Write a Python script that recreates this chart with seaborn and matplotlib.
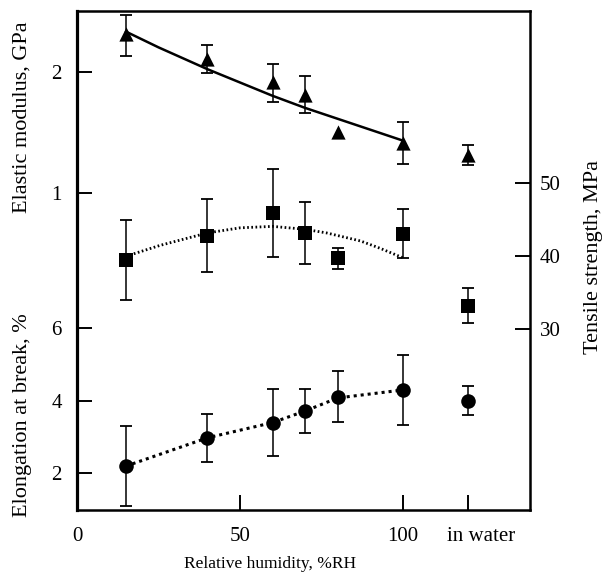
import matplotlib
matplotlib.use("Agg")
import matplotlib.pyplot as plt
import numpy as np
import seaborn as sns

# Relative humidity (%RH) of the conditioned samples; "in water" sits at a separate slot
humidity = [15, 40, 60, 70, 80, 100]
water_pos = 120

# Elastic modulus, GPa
modulus = [2.31, 2.10, 1.91, 1.81, 1.50, 1.41]
modulus_err_lo = [0.18, 0.11, 0.16, 0.15, 0.0, 0.17]
modulus_err_hi = [0.16, 0.12, 0.15, 0.15, 0.0, 0.17]
modulus_water = 1.31
modulus_water_err = 0.08

# Tensile strength, MPa
strength = [39.5, 42.8, 45.9, 43.2, 39.7, 43.1]
strength_err = [5.5, 5.0, 6.0, 4.3, 1.4, 3.4]
strength_water = 33.2
strength_water_err = 2.4

# Elongation at break, %
elongation = [2.2, 2.98, 3.40, 3.72, 4.11, 4.30]
elongation_err = [1.1, 0.66, 0.92, 0.62, 0.70, 0.97]
elongation_water = 4.0
elongation_water_err = 0.4

# Trend curves
modulus_fit_x = [15, 25, 40, 50, 60, 70, 80, 90, 100]
modulus_fit = [2.33, 2.20, 2.02, 1.91, 1.80, 1.70, 1.61, 1.52, 1.43]
strength_fit_x = [15, 25.5, 40, 50, 60, 70, 76.6, 87, 93, 100]
strength_fit = [40.0, 41.5, 43.2, 43.9, 44.1, 43.7, 43.2, 42.1, 41.1, 39.8]
elong_fit_x = [15, 40, 60, 70, 80, 100]
elong_fit = [2.2, 2.98, 3.40, 3.72, 4.08, 4.30]

x_ticks = [0, 50, 100, water_pos]
x_ticklabels = ["0", "50", "100", ""]

sns.set_theme(style="ticks")
plt.rcParams["font.family"] = ["Liberation Serif", "DejaVu Serif"]
plt.rcParams["text.color"] = "black"
plt.rcParams["axes.labelcolor"] = "black"
plt.rcParams["xtick.color"] = "black"
plt.rcParams["ytick.color"] = "black"

fig = plt.figure(figsize=(6.05, 5.86), dpi=100)
ax = fig.add_axes([0.1273, 0.1297, 0.7487, 0.8515])   # elongation scale
ax_mod = ax.twinx()                                    # modulus scale (left)
ax_ts = ax.twinx()                                     # tensile strength scale (right)

ax.set_xlim(0, 139)
ax.set_ylim(0.99, 14.75)
ax_mod.set_ylim(-1.62, 2.50)
ax_ts.set_ylim(5.25, 73.6)

ink = "black"
err_kw = dict(fmt="none", ecolor=ink, elinewidth=1.1, capsize=4.3, capthick=1.3, zorder=2)


def draw_errors(axis, xs, ys, lo, hi):
    xs, ys, lo, hi = map(np.asarray, (xs, ys, lo, hi))
    keep = (lo > 0) | (hi > 0)
    axis.errorbar(xs[keep], ys[keep], yerr=[lo[keep], hi[keep]], **err_kw)


# --- elastic modulus (triangles, solid trend) ---
mod_x = humidity + [water_pos]
mod_y = modulus + [modulus_water]
draw_errors(ax_mod, mod_x, mod_y,
            modulus_err_lo + [modulus_water_err], modulus_err_hi + [modulus_water_err])
sns.lineplot(x=modulus_fit_x, y=modulus_fit, ax=ax_mod, color=ink, lw=1.8, zorder=3)
sns.scatterplot(x=mod_x, y=mod_y, ax=ax_mod, marker="^", s=105, color=ink,
                edgecolor=ink, linewidth=0, zorder=4)

# --- tensile strength (squares, dotted trend) ---
ts_x = humidity + [water_pos]
ts_y = strength + [strength_water]
ts_err = strength_err + [strength_water_err]
draw_errors(ax_ts, ts_x, ts_y, ts_err, ts_err)
sns.lineplot(x=strength_fit_x, y=strength_fit, ax=ax_ts, color=ink, lw=2.0,
             linestyle=(0, (0.6, 0.9)), zorder=3)
sns.scatterplot(x=ts_x, y=ts_y, ax=ax_ts, marker="s", s=95, color=ink,
                edgecolor=ink, linewidth=0, zorder=4)

# --- elongation at break (circles, dotted trend) ---
el_x = humidity + [water_pos]
el_y = elongation + [elongation_water]
el_err = elongation_err + [elongation_water_err]
draw_errors(ax, el_x, el_y, el_err, el_err)
sns.lineplot(x=elong_fit_x, y=elong_fit, ax=ax, color=ink, lw=2.2,
             linestyle=(0, (1.0, 1.3)), zorder=3)
sns.scatterplot(x=el_x, y=el_y, ax=ax, marker="o", s=110, color=ink,
                edgecolor=ink, linewidth=0, zorder=4)

# --- axes, ticks and labels ---
tick_kw = dict(direction="in", length=10.5, width=1.4, labelsize=15, colors=ink)

ax.set_xticks(x_ticks)
ax.set_xticklabels(x_ticklabels)
ax.tick_params(axis="x", pad=12, top=False, **tick_kw)
ax.annotate("in water", xy=(water_pos, 0), xycoords=("data", "axes fraction"),
            xytext=(9.5, -12.5), textcoords="offset points", ha="center", va="top",
            fontsize=15, color=ink)

ax.set_yticks([2, 4, 6])
ax.tick_params(axis="y", left=True, right=False, labelleft=True, labelright=False,
               pad=11, **tick_kw)

ax_mod.yaxis.tick_left()
ax_mod.set_yticks([1, 2])
ax_mod.tick_params(axis="y", pad=11, **tick_kw)

ax_ts.set_yticks([30, 40, 50])
ax_ts.tick_params(axis="y", pad=7, **tick_kw)

for a in (ax_mod, ax_ts):
    for s in a.spines.values():
        s.set_visible(False)
for name, s in ax.spines.items():
    s.set_visible(True)
    s.set_linewidth(2.3 if name == "left" else 1.8)
    s.set_color(ink)

ax.set_xlabel("Relative humidity, %RH", fontsize=12.5)
ax.xaxis.set_label_coords(0.426, -0.092)

ax.set_ylabel("Elongation at break, %", fontsize=16)
ax.yaxis.label.set_verticalalignment("center")
ax.yaxis.set_label_coords(-0.121, 0.19)

ax_mod.yaxis.set_label_position("left")
ax_mod.set_ylabel("Elastic modulus, GPa", fontsize=16)
ax_mod.yaxis.label.set_verticalalignment("center")
ax_mod.yaxis.set_label_coords(-0.121, 0.788)

ax_ts.set_ylabel("Tensile strength, MPa", fontsize=16)
ax_ts.yaxis.label.set_verticalalignment("center")
ax_ts.yaxis.set_label_coords(1.14, 0.507)

fig.savefig("out.png", dpi=100, facecolor="white")
